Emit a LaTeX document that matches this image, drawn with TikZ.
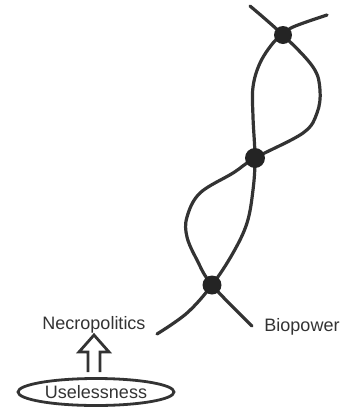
\documentclass[tikz,border=0pt]{standalone}
\usepackage{fontspec}
\setmainfont{Liberation Sans}
\usetikzlibrary{shapes.geometric}
\definecolor{ink}{HTML}{333333}
\begin{document}
\begin{tikzpicture}[x=1pt,y=-1pt,
  strand/.style={draw=ink,line width=3.2pt,line cap=round},
  knot/.style={fill=ink!70!black},
  label/.style={text=ink,font=\fontsize{18}{20}\selectfont,inner sep=0pt},
  blockarrow/.style={draw=ink,line width=2.8pt,line join=miter,fill=white}]
\useasboundingbox (0,0) rectangle (347,408);
% strand A
\draw[strand] plot[smooth,tension=0.6] coordinates {(250,6) (283,35) (313,67) (320,90) (317,113) (303,133) (255,158) (233,173) (200,193) (187,217) (187,237) (197,260) (212,285) (252,326)};
% strand B
\draw[strand] plot[smooth,tension=0.6] coordinates {(327,15) (293,27) (283,35) (273,43) (260,63) (253,87) (253,117) (255,158) (253,190) (247,223) (233,253) (212,285) (187,313) (157,334)};
% crossing knots
\fill[knot] (283,35) circle (9);
\fill[knot] (255,158) circle (10);
\fill[knot] (212,285) circle (9.5);
% labels
\node[label] (necro) at (94,325) {Necropolitics};
\node[label] (bio) at (302,327) {Biopower};
\node[label,draw=ink,line width=2.8pt,ellipse,minimum width=156pt,minimum height=27pt,inner sep=0pt] (useless) at (96,392) {Uselessness};
% hollow up arrow from Uselessness to Necropolitics
\draw[blockarrow] (88,372) -- (88,352) -- (79,352) -- (94,335) -- (109,352) -- (100,352) -- (100,372);
\end{tikzpicture}
\end{document}
